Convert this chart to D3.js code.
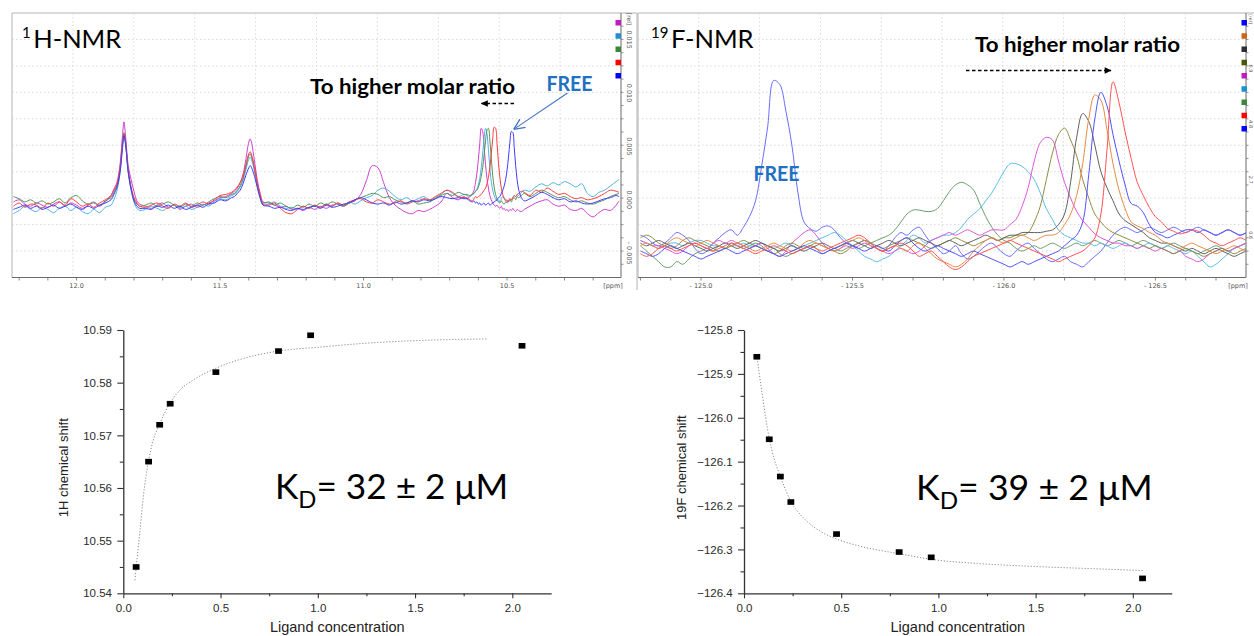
<!DOCTYPE html>
<html>
<head>
<meta charset="utf-8">
<script src="https://d3js.org/d3.v7.min.js"></script>
<style>
  html, body { margin: 0; padding: 0; background: #fff; }
  svg { display: block; }
  text { font-family: "Liberation Sans", Arial, sans-serif; }
</style>
</head>
<body>
<svg id="fig" width="1254" height="636" viewBox="0 0 1254 636"></svg>
<script>
// ---------------- 1H spectra: chemical shift grid (ppm) and intensities (x 0.001 rel) ----------------
const hPpm = [
  12.22,12.20,12.18,12.16,12.14,12.12,12.10,12.08,12.06,12.04,12.02,12.00,11.98,11.96,11.94,11.92,11.90,
  11.88,11.87,11.86,11.85,11.84,11.835,11.83,11.82,11.81,11.80,11.79,11.78,
  11.76,11.74,11.72,11.70,11.68,11.66,11.64,11.62,11.60,11.58,11.56,11.54,11.52,11.50,11.48,11.46,
  11.45,11.44,11.43,11.42,11.41,11.40,11.395,11.39,11.38,11.37,11.36,11.35,
  11.33,11.31,11.29,11.27,11.25,11.23,11.21,11.19,11.17,11.15,11.13,11.11,11.09,11.07,11.05,11.03,11.01,10.99,
  10.97,10.95,10.93,10.91,10.89,10.87,10.85,10.83,10.81,10.79,10.77,10.75,10.73,10.71,10.69,10.67,10.65,
  10.64,10.63,10.62,10.615,10.61,10.605,10.60,10.595,10.59,10.585,10.58,10.575,10.57,10.565,10.56,10.555,
  10.55,10.545,10.54,10.535,10.53,10.525,10.52,10.515,10.51,10.505,10.50,10.495,10.49,10.485,10.48,10.475,
  10.47,10.465,10.46,10.45,10.44,
  10.42,10.40,10.38,10.36,10.34,10.32,10.30,10.28,10.26,10.24,10.22,10.20,10.18,10.16,10.14,10.12,10.11
];
const hMagenta = [
  -0.2,0.0,-0.4,-0.6,-0.3,-0.5,-0.7,-0.4,-0.2,-0.6,-0.3,-0.5,-0.8,-0.5,-0.3,-0.6,-0.2,
  0.4,1.0,1.6,3.0,6.0,7.3,6.2,3.2,1.9,0.8,-0.1,-0.4,
  -0.6,-0.8,-0.5,-0.3,-0.7,-0.5,-0.9,-0.6,-0.4,-0.7,-0.5,-0.3,-0.1,0.2,0.3,0.6,
  0.8,1.1,1.6,2.4,3.8,5.4,5.7,5.3,3.6,1.8,0.6,-0.2,
  -0.3,-0.5,-0.7,-0.6,-0.9,-0.8,-1.0,-0.7,-0.9,-0.6,-0.8,-0.5,-0.4,-0.6,-0.3,-0.1,0.5,1.8,
  3.2,3.0,1.6,0.2,-0.5,-0.9,-1.2,-1.3,-1.0,-1.1,-0.9,-0.6,-0.2,0.6,0.2,0.0,0.3,
  0.1,0.3,0.6,0.9,1.6,2.5,3.8,5.3,6.7,6.4,5.0,3.3,2.0,1.1,0.4,0.0,
  -0.3,-0.5,-0.6,-0.5,-0.7,-0.8,-0.6,-0.9,-0.8,-1.0,-0.9,-1.1,-0.9,-1.0,-0.8,-1.0,
  -1.1,-0.9,-1.0,-1.1,-0.9,
  -0.6,-0.3,-0.1,0.0,-0.4,-0.6,-0.5,-0.9,-1.0,-0.8,-1.3,-1.6,-1.2,-0.9,-1.0,-0.5,-0.1
];
const hCyan = [
  -1.3,-1.0,-0.6,-0.9,-1.1,-0.7,-0.9,-1.2,-0.8,-0.6,-1.0,-0.7,-1.1,-1.3,-0.9,-1.2,-0.7,
  -0.5,0.0,0.8,2.2,5.0,6.0,5.3,2.5,0.9,-0.2,-0.8,-1.0,
  -0.9,-0.6,-0.8,-1.0,-0.7,-0.5,-0.8,-0.6,-0.9,-0.7,-0.4,-0.6,-0.2,0.1,0.0,0.4,
  0.5,0.8,1.2,1.8,2.8,3.8,4.0,3.7,2.7,1.3,0.2,-0.5,
  -0.4,-0.2,-0.6,-0.8,-0.7,-0.9,-0.6,-0.8,-0.5,-0.7,-0.4,-0.6,-0.3,-0.5,-0.2,-0.4,-0.1,0.2,
  0.4,0.9,1.1,0.8,0.3,0.0,0.2,-0.1,0.1,0.3,0.0,0.2,0.5,0.9,0.6,0.3,0.5,
  0.4,0.3,0.5,0.6,0.8,1.0,1.4,2.0,3.0,4.3,5.8,6.7,6.2,4.7,3.0,1.7,
  0.9,0.4,0.1,-0.1,0.0,-0.2,0.1,0.3,0.2,0.0,-0.2,-0.1,0.1,0.0,0.2,0.4,
  0.3,0.5,0.4,0.7,0.9,
  0.8,1.2,1.5,1.3,1.6,1.4,1.7,1.5,1.2,1.5,0.6,0.3,0.7,0.9,1.3,1.7,1.9
];
const hGreen = [
  0.3,0.1,-0.2,0.0,-0.3,-0.1,-0.4,-0.2,0.1,-0.3,0.2,0.4,-0.1,-0.4,-0.2,-0.5,-0.1,
  0.2,0.7,1.3,2.6,5.3,6.3,5.5,2.7,1.1,0.1,-0.4,-0.6,
  -0.5,-0.3,-0.6,-0.4,-0.2,-0.5,-0.7,-0.4,-0.6,-0.3,-0.5,-0.2,0.1,0.3,0.2,0.5,
  0.6,0.9,1.3,2.0,3.1,4.1,4.3,4.0,2.9,1.4,0.3,-0.3,
  -0.2,-0.5,-0.3,-0.6,-0.8,-0.5,-0.7,-0.4,-0.6,-0.3,-0.5,-0.2,-0.4,-0.6,-0.3,0.0,0.2,0.4,
  0.6,0.5,0.2,0.3,0.0,-0.2,-0.3,-0.1,-0.4,-0.3,-0.2,0.1,0.4,0.6,0.4,0.7,0.5,
  0.5,0.4,0.5,0.6,0.8,0.9,1.2,1.6,2.2,3.0,4.2,5.5,6.5,6.7,5.6,3.9,
  2.3,1.2,0.5,0.1,-0.2,-0.3,-0.1,-0.3,-0.4,-0.2,-0.3,-0.1,0.0,-0.2,0.1,0.2,
  0.0,0.3,0.2,0.4,0.6,
  0.3,0.6,0.9,0.7,0.4,0.2,0.3,0.0,-0.2,-0.1,-0.3,-0.4,-0.2,0.0,0.3,0.5,0.6
];
const hRed = [
  -0.6,-0.3,-0.7,-0.4,-0.5,-0.8,-0.3,-0.6,-0.2,-0.5,0.1,-0.2,-0.6,-0.4,-0.7,-0.3,0.0,
  0.4,0.9,1.4,2.7,5.2,6.2,5.6,2.8,1.2,0.2,-0.3,-0.6,
  -0.7,-0.5,-0.3,-0.6,-0.8,-0.4,-0.6,-0.3,-0.7,-0.5,-0.2,-0.4,0.0,0.4,0.5,0.7,
  0.9,1.2,1.6,2.2,3.3,4.3,4.5,4.2,3.0,1.5,0.4,-0.4,
  -0.5,-0.3,-0.8,-1.2,-1.3,-0.9,-0.6,-0.8,-0.5,-0.7,-0.4,-0.6,-0.3,-0.5,-0.2,0.0,0.1,-0.2,
  -0.3,0.0,-0.2,-0.4,-0.3,-0.1,-0.4,-0.2,-0.1,0.1,0.0,0.3,0.6,0.9,0.7,0.3,0.2,
  0.2,0.0,-0.1,0.1,0.3,0.2,0.3,0.4,0.5,0.7,0.9,1.1,1.5,2.1,3.0,4.3,
  5.7,6.8,6.7,5.3,3.5,2.1,1.1,0.5,0.1,-0.1,0.0,-0.2,0.1,0.0,0.2,0.4,
  0.3,0.5,0.6,0.8,0.7,
  0.4,0.9,0.7,1.1,0.8,0.5,0.6,0.3,0.1,0.2,0.0,0.1,0.3,0.6,0.9,0.8,0.7
];
const hBlue = [
  -0.9,-0.7,-0.5,-0.8,-0.6,-0.9,-0.7,-0.5,-0.8,-0.6,-0.4,-0.7,-0.9,-0.6,-0.8,-0.5,-0.3,
  0.0,0.5,1.1,2.3,4.8,6.0,5.4,2.6,1.0,-0.1,-0.6,-0.8,
  -0.8,-0.9,-0.6,-0.7,-0.5,-0.8,-0.6,-0.9,-0.7,-0.5,-0.7,-0.4,-0.3,0.0,-0.1,0.2,
  0.3,0.6,0.9,1.5,2.3,3.0,3.2,3.0,2.2,1.1,0.1,-0.5,
  -0.6,-0.8,-0.7,-0.9,-1.0,-0.8,-0.9,-0.7,-0.6,-0.8,-0.5,-0.7,-0.6,-0.4,-0.3,0.0,0.2,0.0,
  -0.3,-0.4,-0.3,-0.5,-0.2,-0.4,-0.3,-0.1,-0.2,0.0,-0.1,0.1,0.3,0.2,0.1,0.2,0.1,
  0.1,-0.1,-0.2,-0.1,-0.3,-0.2,-0.4,-0.3,-0.5,-0.4,-0.3,-0.5,-0.4,-0.3,-0.5,-0.4,
  -0.3,-0.2,-0.1,0.0,0.2,0.3,0.6,0.9,1.3,1.9,2.8,4.0,5.4,6.4,6.3,4.9,
  3.2,1.9,1.0,0.2,-0.1,
  0.1,0.4,0.7,0.5,0.2,0.0,0.1,-0.2,-0.1,-0.3,-0.4,-0.3,-0.1,0.1,0.2,0.4,0.3
];
const hTraces = [hMagenta, hCyan, hGreen, hRed, hBlue];
const hTraceColors = ["#cc3fcc", "#4fb2de", "#54925a", "#ff3b3b", "#3c3cff"];
const hLegendColors = ["#c21bc2", "#1e8fcf", "#3b873b", "#ff0000", "#0000ff"];
const hTickMinor = [12.2,12.1,12.0,11.9,11.8,11.7,11.6,11.5,11.4,11.3,11.2,11.1,11.0,10.9,10.8,10.7,10.6,10.5,10.4,10.3,10.2];
const hTickLabels = [12.0, 11.5, 11.0, 10.5];
const hIntTicks = [-5, 0, 5, 10, 15];

// ---------------- 19F spectra: grid every 0.02 ppm, intensities in arbitrary units ----------------
const fPpm = [
  -124.80,-124.82,-124.84,-124.86,-124.88,-124.90,-124.92,-124.94,-124.96,-124.98,
  -125.00,-125.02,-125.04,-125.06,-125.08,-125.10,-125.12,-125.14,-125.16,-125.18,
  -125.20,-125.22,-125.24,-125.26,-125.28,-125.30,-125.32,-125.34,-125.36,-125.38,
  -125.40,-125.42,-125.44,-125.46,-125.48,-125.50,-125.52,-125.54,-125.56,-125.58,
  -125.60,-125.62,-125.64,-125.66,-125.68,-125.70,-125.72,-125.74,-125.76,-125.78,
  -125.80,-125.82,-125.84,-125.86,-125.88,-125.90,-125.92,-125.94,-125.96,-125.98,
  -126.00,-126.02,-126.04,-126.06,-126.08,-126.10,-126.12,-126.14,-126.16,-126.18,
  -126.20,-126.22,-126.24,-126.26,-126.28,-126.30,-126.32,-126.34,-126.36,-126.38,
  -126.40,-126.42,-126.44,-126.46,-126.48,-126.50,-126.52,-126.54,-126.56,-126.58,
  -126.60,-126.62,-126.64,-126.66,-126.68,-126.70,-126.72,-126.74,-126.76,-126.78,
  -126.80
];
const fFree = [
  0.6,0.5,0.3,0.2,0.3,0.5,0.7,0.6,0.4,0.1,-0.1,0.0,0.3,0.5,0.7,0.8,
  0.6,0.9,1.3,1.9,3.2,4.7,6.45,6.3,5.3,4.0,2.2,1.1,0.85,0.75,0.9,0.95,0.8,0.5,0.3,0.2,
  0.3,0.4,0.3,0.1,0.0,0.2,0.5,0.7,0.6,0.8,0.9,0.6,0.3,0.1,-0.1,0.0,0.2,-0.1,-0.3,-0.2,
  0.0,0.2,0.3,0.1,-0.1,-0.2,0.0,0.2,0.3,0.1,-0.1,-0.3,-0.4,-0.3,-0.2,-0.4,-0.5,-0.6,-0.4,-0.2,
  0.0,0.3,0.6,0.8,0.9,0.8,0.7,0.8,0.9,0.8,0.7,0.8,0.9,0.8,0.7,0.8,0.9,0.8,0.7,0.6,0.7,0.8,0.7,0.6,0.7
];
const fGreen = [
  0.2,0.0,-0.2,-0.4,-0.6,-0.6,-0.4,-0.5,-0.3,-0.1,0.0,
  0.1,0.0,0.2,0.1,0.3,0.2,0.1,0.2,0.3,0.2,
  0.0,0.1,-0.1,-0.2,-0.1,0.0,0.1,0.2,0.1,-0.1,
  0.0,0.1,0.0,0.1,0.2,0.1,0.2,0.3,0.4,0.5,
  0.6,0.8,1.1,1.4,1.55,1.55,1.5,1.5,1.6,1.9,
  2.25,2.5,2.6,2.5,2.3,1.8,1.3,0.9,0.6,0.4,
  0.3,0.1,0.0,0.1,0.2,0.1,0.2,0.3,0.2,0.1,
  0.2,0.3,0.2,0.3,0.4,0.3,0.2,0.3,0.4,0.3,
  0.2,0.3,0.4,0.3,0.2,0.1,0.2,0.3,0.2,0.1,
  0.0,-0.1,0.0,0.1,0.2,0.1,0.0,0.1,0.2,0.3
];
const fCyan = [
  0.4,0.3,0.2,0.1,0.2,0.3,0.3,0.2,0.3,0.4,0.4,
  0.3,0.2,0.2,0.1,0.2,0.2,0.3,0.2,0.2,0.3,
  0.2,0.1,0.2,0.3,0.2,0.1,0.2,0.3,0.4,0.5,
  0.6,0.7,0.6,0.4,0.2,0.0,-0.2,-0.3,-0.4,-0.3,
  -0.2,0.0,0.2,0.4,0.6,0.5,0.3,0.4,0.5,0.6,
  0.6,0.7,0.9,1.2,1.4,1.6,1.9,2.2,2.6,3.0,
  3.3,3.3,3.2,3.0,2.7,2.2,1.6,1.2,0.8,0.6,
  0.5,0.4,0.3,0.3,0.2,0.3,0.2,0.1,0.2,0.3,
  0.2,0.1,0.2,0.3,0.2,0.1,0.2,0.1,0.0,-0.1,
  0.0,-0.2,-0.4,-0.6,-0.5,-0.3,-0.1,0.1,0.2,0.3
];
const fMagenta = [
  0.4,0.3,0.2,0.2,0.1,0.0,-0.1,0.0,0.2,0.3,0.2,
  0.1,0.3,0.4,0.3,0.4,0.3,0.2,0.1,0.2,0.3,
  0.1,-0.1,-0.2,0.0,0.3,0.5,0.7,0.8,0.6,0.3,
  0.1,0.0,0.1,0.2,0.1,0.2,0.3,0.2,0.1,0.0,
  -0.1,0.0,0.1,0.0,-0.1,0.0,0.2,0.4,0.5,0.6,
  0.7,0.6,0.7,0.8,0.7,0.6,0.7,0.8,0.8,0.8,
  1.0,1.2,1.7,2.4,3.4,4.1,4.3,4.2,3.4,2.6,
  2.0,1.5,1.15,0.9,0.65,0.5,0.4,0.3,0.3,0.2,
  0.2,0.1,0.2,0.1,0.0,0.1,0.0,-0.1,0.0,-0.2,
  -0.3,-0.4,-0.3,-0.1,0.0,0.1,0.0,0.1,0.2,0.3
];
const fOlive = [
  0.5,0.6,0.5,0.3,0.2,0.1,0.2,0.4,0.5,0.4,0.3,
  0.2,0.1,0.0,0.1,0.2,0.3,0.4,0.3,0.2,0.1,
  0.0,-0.1,0.0,0.2,0.3,0.2,0.1,0.2,0.3,0.2,
  0.1,0.0,-0.1,0.0,0.2,0.3,0.4,0.3,0.2,0.1,
  0.2,0.3,0.4,0.5,0.4,0.3,0.2,0.1,0.2,0.3,
  0.4,0.5,0.4,0.3,0.2,0.3,0.4,0.5,0.4,0.5,
  0.5,0.6,0.6,0.7,1.1,1.7,2.7,3.7,4.4,4.65,
  4.2,3.6,2.7,2.0,1.4,1.1,0.85,0.7,0.6,0.5,
  0.4,0.3,0.2,0.1,0.2,0.1,0.0,-0.1,0.0,0.1,
  0.0,-0.1,-0.2,-0.1,0.0,0.1,0.0,-0.1,0.0,0.1
];
const fDark = [
  0.3,0.2,0.3,0.4,0.3,0.2,0.1,0.2,0.3,0.2,0.1,
  0.0,0.1,0.2,0.3,0.2,0.1,0.2,0.3,0.4,0.3,
  0.2,0.1,0.0,0.1,0.2,0.1,0.0,0.1,0.2,0.3,
  0.2,0.1,0.2,0.3,0.4,0.3,0.2,0.1,0.2,0.3,
  0.4,0.3,0.2,0.3,0.4,0.5,0.4,0.3,0.2,0.3,
  0.4,0.3,0.2,0.3,0.4,0.5,0.6,0.5,0.4,0.5,
  0.6,0.6,0.7,0.7,0.7,0.7,0.75,0.8,1.0,1.4,
  2.6,4.3,5.2,4.9,4.0,3.0,2.4,1.9,1.4,1.15,
  1.0,0.85,0.7,0.5,0.4,0.3,0.3,0.2,0.1,0.0,
  0.1,0.0,-0.1,0.0,0.1,0.0,-0.1,-0.2,-0.1,0.0
];
const fOrange = [
  0.2,0.3,0.2,0.1,0.2,0.4,0.5,0.4,0.3,0.2,0.3,
  0.4,0.3,0.2,0.1,0.2,0.3,0.2,0.1,0.0,0.1,
  0.2,0.3,0.2,0.1,0.0,0.1,0.3,0.4,0.3,0.2,
  0.1,0.0,0.1,0.3,0.4,0.5,0.4,0.2,0.1,0.0,
  0.1,0.2,0.1,0.0,0.2,0.3,0.1,-0.1,-0.3,-0.4,
  -0.5,-0.6,-0.5,-0.3,0.0,0.2,0.4,0.5,0.4,0.3,
  0.4,0.5,0.6,0.5,0.4,0.5,0.6,0.6,0.7,1.0,
  1.4,2.1,3.3,5.0,5.9,5.7,4.6,3.3,2.3,1.6,
  1.1,0.95,0.85,0.7,0.6,0.4,0.3,0.2,0.1,0.2,
  0.3,0.2,0.1,0.0,-0.1,0.0,0.1,0.2,0.1,0.0
];
const fBlue = [
  0.0,-0.1,-0.2,-0.1,0.1,0.2,0.1,0.0,-0.1,-0.2,-0.3,
  -0.2,-0.1,0.0,0.1,0.0,-0.1,0.0,0.1,0.2,0.1,
  0.0,-0.1,-0.2,-0.1,0.0,0.1,0.2,0.1,0.0,-0.1,
  0.0,0.1,0.2,0.3,0.2,0.1,0.0,0.1,0.2,0.1,
  0.0,0.2,0.4,0.5,0.3,0.1,0.0,0.1,0.2,0.1,
  0.0,-0.1,-0.2,-0.1,0.0,-0.1,-0.2,-0.3,-0.4,-0.5,
  -0.6,-0.5,-0.4,-0.5,-0.4,-0.3,-0.2,-0.1,0.0,0.2,
  0.4,0.6,1.1,2.9,5.0,6.0,5.5,4.4,3.4,2.5,
  1.8,1.7,1.45,1.0,0.7,0.6,0.5,0.6,0.7,0.8,
  0.8,0.7,0.8,0.7,0.6,0.7,0.8,0.7,0.6,0.7
];
const fRed = [
  -0.1,-0.2,-0.1,0.1,0.2,0.1,0.0,0.1,0.2,0.3,0.2,
  0.1,0.0,0.1,0.2,0.3,0.2,0.1,0.0,-0.1,0.0,
  0.1,0.2,0.1,0.0,-0.1,0.0,0.1,0.2,0.1,0.0,
  0.1,0.2,0.3,0.4,0.5,0.6,0.5,0.3,0.1,0.0,
  0.1,0.2,0.3,0.2,0.0,-0.2,-0.1,0.0,-0.2,-0.4,
  -0.6,-0.7,-0.6,-0.4,-0.2,-0.1,0.0,0.1,0.2,0.3,
  0.4,0.3,0.2,0.1,0.0,-0.1,-0.2,-0.3,-0.4,-0.3,
  -0.2,-0.1,0.0,0.2,0.5,1.4,3.8,6.4,5.6,4.5,
  3.5,2.6,2.1,1.65,1.3,1.1,0.85,0.75,0.65,0.7,
  0.8,0.75,0.6,0.4,0.3,0.2,0.3,0.4,0.5,0.4
];
const fTraces = [fFree, fGreen, fCyan, fMagenta, fOlive, fDark, fOrange, fBlue, fRed];
const fTraceColors = ["#6b6bff", "#6c9c6c", "#5cbde6", "#dd55dd", "#8c8c44", "#606060", "#e58a45", "#5050ff", "#ff5252"];
const fLegendColors = ["#0000ff", "#cf6418", "#2e2e2e", "#4d560a", "#c21bc2", "#1e8fcf", "#3b873b", "#ff0000", "#0000ff"];
const fTickMinor = [-124.8,-124.9,-125.0,-125.1,-125.2,-125.3,-125.4,-125.5,-125.6,-125.7,-125.8,-125.9,-126.0,-126.1,-126.2,-126.3,-126.4,-126.5,-126.6,-126.7];
const fTickLabels = [-125.0, -125.5, -126.0, -126.5];
const fIntTicks = [0.6, 2.7, 4.8, 6.9];

// ---------------- titration data ----------------
const ligandConc = [0.066, 0.13, 0.187, 0.241, 0.476, 0.798, 0.963, 2.05];
const hShift = [10.545, 10.565, 10.572, 10.576, 10.582, 10.586, 10.589, 10.587];
const fShift = [-125.861, -126.049, -126.134, -126.192, -126.265, -126.306, -126.318, -126.366];
const hFitConc = [0.060, 0.072, 0.086, 0.103, 0.129, 0.154, 0.185, 0.238, 0.291, 0.360, 0.473, 0.566, 0.795, 0.994, 1.251, 1.594, 1.868];
const hFitShift = [10.5425, 10.5470, 10.5520, 10.5584, 10.5650, 10.5691, 10.5720, 10.5760, 10.5786, 10.5805, 10.5827, 10.5840, 10.5860, 10.5867, 10.5875, 10.5881, 10.5883];
const fFitConc = [0.068, 0.08, 0.095, 0.11, 0.13, 0.155, 0.19, 0.24, 0.31, 0.39, 0.48, 0.6, 0.8, 0.97, 1.2, 1.5, 1.8, 2.05];
const fFitShift = [-125.864, -125.905, -125.95, -125.995, -126.047, -126.093, -126.137, -126.19, -126.23, -126.258, -126.277, -126.293, -126.31, -126.323, -126.332, -126.339, -126.344, -126.348];
const xTicksMajor = [0, 0.5, 1.0, 1.5, 2.0];
const xTicksMinor = [0.25, 0.75, 1.25, 1.75];
const hShiftTicks = [10.54, 10.55, 10.56, 10.57, 10.58, 10.59];
const hShiftMinor = [10.545, 10.555, 10.565, 10.575, 10.585];
const fShiftTicks = [-126.4, -126.3, -126.2, -126.1, -126.0, -125.9, -125.8];
const fShiftMinor = [-126.35, -126.25, -126.15, -126.05, -125.95, -125.85];
const kdValues = [32, 39];
const kdErrors = [2, 2];

// =====================================================================
const svg = d3.select("#fig");
const defs = svg.append("defs");

defs.append("marker").attr("id", "headBlack")
  .attr("viewBox", "0 0 10 10").attr("refX", 9).attr("refY", 5)
  .attr("markerWidth", 8).attr("markerHeight", 7).attr("markerUnits", "userSpaceOnUse")
  .attr("orient", "auto")
  .append("path").attr("d", "M0,0.5 L10,5 L0,9.5 Z").attr("fill", "#000");

defs.append("marker").attr("id", "headBlue")
  .attr("viewBox", "0 0 10 10").attr("refX", 10).attr("refY", 5)
  .attr("markerWidth", 11).attr("markerHeight", 11).attr("markerUnits", "userSpaceOnUse")
  .attr("orient", "auto")
  .append("path").attr("d", "M0,0.5 L10,5 L0,9.5").attr("fill", "none")
  .attr("stroke", "#4472c4").attr("stroke-width", 1.2);

// ---------- spectrum panel ----------
function spectrumPanel(opt) {
  const { id, box, x, y, ppm, traces, colors, legendColors, legendX,
          minorTicks, labelTicks, labelFmt, intTicks, intFmt, labelDx, labelSize } = opt;
  const g = svg.append("g").attr("class", id);

  // frame
  g.append("path")
    .attr("d", `M${box.left},${box.bottom} V${box.top} H${box.outerRight} V${box.outerBottom}`)
    .attr("fill", "none").attr("stroke", "#b4b4b4").attr("stroke-width", 1);

  // dotted grid, ten equal divisions
  const gridG = g.append("g").attr("stroke", "#cfcfcf").attr("stroke-width", 0.8)
    .attr("stroke-dasharray", "1.5,2.5");
  d3.range(1, 10).forEach(k => {
    const gx = box.left + k * (box.right - box.left) / 10;
    const gy = box.top + k * (box.bottom - box.top) / 10;
    gridG.append("line").attr("x1", gx).attr("x2", gx).attr("y1", box.top).attr("y2", box.bottom);
    gridG.append("line").attr("x1", box.left).attr("x2", box.right).attr("y1", gy).attr("y2", gy);
  });

  // traces
  const clipId = id + "-clip";
  defs.append("clipPath").attr("id", clipId).append("rect")
    .attr("x", box.left).attr("y", box.top)
    .attr("width", box.right - box.left).attr("height", box.bottom - box.top);
  const line = d3.line().x((d, i) => x(ppm[i])).y(d => y(d)).curve(d3.curveCatmullRom.alpha(0.5));
  g.append("g").attr("clip-path", `url(#${clipId})`)
    .selectAll("path").data(traces).join("path")
    .attr("d", line)
    .attr("fill", "none")
    .attr("stroke", (d, i) => colors[i])
    .attr("stroke-width", 1)
    .attr("stroke-linejoin", "round");

  // bottom axis
  const ax = g.append("g").attr("transform", `translate(0,${box.bottom})`);
  ax.append("line").attr("x1", box.left).attr("x2", box.right).attr("stroke", "#6a6a6a").attr("stroke-width", 1);
  ax.selectAll("line.tk").data(minorTicks).join("line").attr("class", "tk")
    .attr("x1", d => x(d)).attr("x2", d => x(d)).attr("y1", 0).attr("y2", 3)
    .attr("stroke", "#6a6a6a").attr("stroke-width", 0.8);
  ax.selectAll("text").data(labelTicks).join("text")
    .attr("x", d => x(d)).attr("y", 10)
    .attr("text-anchor", "middle")
    .style("font-family", "DejaVu Sans, sans-serif").style("font-size", "6.5px").attr("fill", "#555")
    .text(labelFmt);
  ax.append("text").attr("x", box.right - 8).attr("y", 10)
    .attr("text-anchor", "middle")
    .style("font-family", "DejaVu Sans, sans-serif").style("font-size", "6.5px").attr("fill", "#555")
    .text("[ppm]");

  // right intensity axis
  const ay = g.append("g").attr("transform", `translate(${box.right},0)`);
  ay.append("line").attr("y1", box.top).attr("y2", box.bottom).attr("stroke", "#6a6a6a").attr("stroke-width", 1);
  const gridStep = (box.bottom - box.top) / 20;
  d3.range(1, 20).forEach(k => {
    ay.append("line").attr("x1", 0).attr("x2", 2.5)
      .attr("y1", box.top + k * gridStep).attr("y2", box.top + k * gridStep)
      .attr("stroke", "#6a6a6a").attr("stroke-width", 0.7);
  });
  ay.selectAll("text.tl").data(intTicks).join("text").attr("class", "tl")
    .attr("transform", d => `translate(${labelDx},${y(d)}) rotate(90)`)
    .attr("text-anchor", "middle")
    .style("font-family", "DejaVu Sans, sans-serif").style("font-size", labelSize + "px").attr("fill", "#555")
    .text(intFmt);
  ay.append("text")
    .attr("transform", `translate(${labelDx},${box.top + 6}) rotate(90)`)
    .attr("text-anchor", "middle")
    .style("font-family", "DejaVu Sans, sans-serif").style("font-size", (labelSize - 0.5) + "px").attr("fill", "#555")
    .text("[rel]");

  // legend swatches
  g.selectAll("rect.lg").data(legendColors).join("rect").attr("class", "lg")
    .attr("x", legendX).attr("y", (d, i) => 20 + i * 13.25)
    .attr("width", 5.5).attr("height", 5.5)
    .attr("fill", d => d);
  return g;
}

// 1H panel
const hBox = { left: 12, right: 621, top: 13, bottom: 277.5, outerRight: 637, outerBottom: 290 };
const xH = d3.scaleLinear().domain([12.225, 10.103]).range([hBox.left, hBox.right]);
const yH = d3.scaleLinear().domain([-7.28, 17.5]).range([hBox.bottom, hBox.top]);
const gH = spectrumPanel({
  id: "h1", box: hBox, x: xH, y: yH, ppm: hPpm, traces: hTraces,
  colors: hTraceColors, legendColors: hLegendColors, legendX: 615.5,
  minorTicks: hTickMinor, labelTicks: hTickLabels, labelFmt: d3.format(".1f"),
  intTicks: hIntTicks, intFmt: d => (d < 0 ? "- " : "") + d3.format(".3f")(Math.abs(d) / 1000),
  labelDx: 6, labelSize: 6.5
});

// 19F panel
const fBox = { left: 638, right: 1246, top: 13, bottom: 277.5, outerRight: 1262, outerBottom: 290 };
const xF = d3.scaleLinear().domain([-124.792, -126.799]).range([fBox.left, fBox.right]);
const yF = d3.scaleLinear().domain([-1, 9]).range([fBox.bottom, fBox.top]);
const gF = spectrumPanel({
  id: "f19", box: fBox, x: xF, y: yF, ppm: fPpm, traces: fTraces,
  colors: fTraceColors, legendColors: fLegendColors, legendX: 1241.5,
  minorTicks: fTickMinor, labelTicks: fTickLabels,
  labelFmt: d => "- " + d3.format(".1f")(Math.abs(d)),
  intTicks: fIntTicks, intFmt: d => d3.format(".1f")(d),
  labelDx: 2.5, labelSize: 5
});

// titles
function nucleusTitle(g, x0, base, iso, rest) {
  const t = g.append("text").attr("x", x0).attr("y", base)
    .style("font-family", "Lato, 'Open Sans', sans-serif").style("font-size", "25.5px").attr("fill", "#000");
  t.append("tspan").attr("dy", -10).style("font-size", "15px").text(iso);
  t.append("tspan").attr("dy", 10).attr("dx", 2.5).text(rest);
}
nucleusTitle(gH, 22, 47.5, "1", "H-NMR");
nucleusTitle(gF, 651, 47.5, "19", "F-NMR");

// annotations
function boldLabel(g, x0, base, txt, color, len) {
  g.append("text").attr("x", x0).attr("y", base)
    .attr("textLength", len).attr("lengthAdjust", "spacingAndGlyphs")
    .style("font-family", "Lato, 'Open Sans', sans-serif").style("font-weight", "bold")
    .style("font-size", "20px").attr("fill", color).text(txt);
}
boldLabel(gH, 310, 93.5, "To higher molar ratio", "#000", 205);
boldLabel(gH, 546.5, 90.5, "FREE", "#1f71c1", 46);
boldLabel(gF, 975, 52, "To higher molar ratio", "#000", 205);
boldLabel(gF, 753.5, 180.5, "FREE", "#1f71c1", 46);

// dashed shift arrows
gH.append("line").attr("x1", 514).attr("y1", 103.5).attr("x2", 481.5).attr("y2", 103.5)
  .attr("stroke", "#000").attr("stroke-width", 1.6).attr("stroke-dasharray", "3.5,2.5")
  .attr("marker-end", "url(#headBlack)");
gF.append("line").attr("x1", 966).attr("y1", 70.5).attr("x2", 1111).attr("y2", 70.5)
  .attr("stroke", "#000").attr("stroke-width", 1.6).attr("stroke-dasharray", "3.5,2.5")
  .attr("marker-end", "url(#headBlack)");

// pointer to the free-ligand peak
gH.append("line").attr("x1", 567.5).attr("y1", 93).attr("x2", xH(10.484) + 2).attr("y2", yH(6.6))
  .attr("stroke", "#4472c4").attr("stroke-width", 1.1)
  .attr("marker-end", "url(#headBlue)");

// ---------- titration charts ----------
function titrationChart(opt) {
  const { x, y, conc, shift, fitConc, fitShift, yTicks, yMinor, yFmt,
          yLabel, yLabelX, kd, kdErr, kdX, kdY, kdScale } = opt;
  const g = svg.append("g");
  const [x0, x1] = x.range();
  const [yb, yt] = y.range();

  const xa = g.append("g").attr("transform", `translate(0,${yb})`)
    .call(d3.axisBottom(x).tickValues(xTicksMajor).tickSize(5).tickSizeOuter(0).tickFormat(d3.format(".1f")));
  xa.append("g").call(d3.axisBottom(x).tickValues(xTicksMinor).tickSize(3).tickSizeOuter(0).tickFormat(""))
    .select(".domain").remove();
  const ya = g.append("g").attr("transform", `translate(${x0},0)`)
    .call(d3.axisLeft(y).tickValues(yTicks).tickSize(6).tickSizeOuter(0).tickFormat(yFmt));
  ya.append("g").call(d3.axisLeft(y).tickValues(yMinor).tickSize(3.5).tickSizeOuter(0).tickFormat(""))
    .select(".domain").remove();

  g.selectAll(".domain").attr("stroke", "#333").attr("stroke-width", 1.3);
  g.selectAll(".tick line").attr("stroke", "#333").attr("stroke-width", 1.1);
  g.selectAll(".tick text").attr("fill", "#2a2a2a")
    .style("font-family", "'Liberation Sans', Arial, sans-serif").style("font-size", "11.5px");
  xa.selectAll(".tick text").attr("dy", "0.9em");
  ya.selectAll(".tick text").attr("dx", "-0.2em");

  // fitted binding curve
  g.append("path").datum(fitConc)
    .attr("d", d3.line().x(d => x(d)).y((d, i) => y(fitShift[i])).curve(d3.curveMonotoneX))
    .attr("fill", "none").attr("stroke", "#8a8a8a").attr("stroke-width", 1)
    .attr("stroke-dasharray", "1.2,1.8");

  // measured points
  g.selectAll("rect.pt").data(conc).join("rect").attr("class", "pt")
    .attr("x", d => x(d) - 3.4).attr("y", (d, i) => y(shift[i]) - 2.8)
    .attr("width", 6.8).attr("height", 5.6).attr("fill", "#000");

  // axis titles
  g.append("text").attr("transform", `translate(${yLabelX},${(yb + yt) / 2 + 6}) rotate(-90)`)
    .attr("text-anchor", "middle").style("font-size", "13px").attr("fill", "#222").text(yLabel);
  g.append("text").attr("x", (x0 + x1) / 2).attr("y", 632)
    .attr("text-anchor", "middle").style("font-size", "14.5px").attr("fill", "#222").text("Ligand concentration");

  // dissociation constant
  const t = g.append("text").attr("transform", `translate(${kdX},${kdY}) scale(${kdScale},1)`)
    .style("font-family", "Lato, 'Open Sans', sans-serif").style("font-size", "34px").attr("fill", "#000");
  t.append("tspan").text("K");
  t.append("tspan").attr("dy", 9).style("font-size", "23px").text("D");
  t.append("tspan").attr("dy", -9).text(`= ${kd} \u00B1 ${kdErr} \u03BCM`);
  return g;
}

const xL = d3.scaleLinear().domain([0, 2.2]).range([123.3, 551.2]);
const yL = d3.scaleLinear().domain([10.54, 10.59]).range([593.3, 330]);
titrationChart({
  x: xL, y: yL, conc: ligandConc, shift: hShift, fitConc: hFitConc, fitShift: hFitShift,
  yTicks: hShiftTicks, yMinor: hShiftMinor, yFmt: d3.format(".2f"),
  yLabel: "1H chemical shift", yLabelX: 68, kd: kdValues[0], kdErr: kdErrors[0],
  kdX: 275, kdY: 499, kdScale: 1.035
});

const xR = d3.scaleLinear().domain([0, 2.2]).range([744, 1171.7]);
const yR = d3.scaleLinear().domain([-126.4, -125.8]).range([593.3, 330]);
titrationChart({
  x: xR, y: yR, conc: ligandConc, shift: fShift, fitConc: fFitConc, fitShift: fFitShift,
  yTicks: fShiftTicks, yMinor: fShiftMinor, yFmt: d3.format(".1f"),
  yLabel: "19F chemical shift", yLabelX: 686, kd: kdValues[1], kdErr: kdErrors[1],
  kdX: 916, kdY: 500, kdScale: 1.05
});
</script>
</body>
</html>
